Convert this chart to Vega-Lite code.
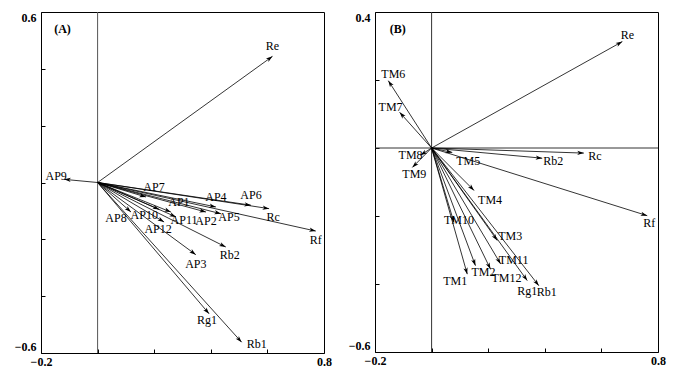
{
  "$schema": "https://vega.github.io/schema/vega-lite/v6.json",
  "padding": {"left": 9, "top": 10, "right": 5, "bottom": 5},
  "bounds": "flush",
  "spacing": 51,
  "config": {
    "view": {"stroke": "#000", "strokeWidth": 1},
    "axis": {
      "grid": false,
      "domain": false,
      "ticks": true,
      "tickSize": 4,
      "offset": -4,
      "tickColor": "#000",
      "tickWidth": 1,
      "labelFont": "Liberation Serif",
      "labelFontSize": 12,
      "labelFontWeight": "bold",
      "labelColor": "#000",
      "format": ".1f",
      "labelExpr": "datum.index == 0 || datum.index == 1 ? datum.label : ''"
    },
    "axisY": {"labelPadding": 5, "labelFlush": true, "minExtent": 35, "maxExtent": 35},
    "axisX": {"labelPadding": 3, "labelFlush": false}
  },
  "hconcat": [
    {
      "width": 283,
      "height": 341,
      "data": {"values": [
        {"label": "Re", "x": 0.618, "y": 0.444},
        {"label": "AP9", "x": -0.118, "y": 0.011},
        {"label": "AP7", "x": 0.171, "y": -0.051},
        {"label": "AP4", "x": 0.418, "y": -0.086},
        {"label": "AP6", "x": 0.542, "y": -0.080},
        {"label": "Rc", "x": 0.606, "y": -0.092},
        {"label": "Rf", "x": 0.771, "y": -0.171},
        {"label": "AP1", "x": 0.259, "y": -0.104},
        {"label": "AP10", "x": 0.218, "y": -0.095},
        {"label": "AP8", "x": 0.118, "y": -0.104},
        {"label": "AP11", "x": 0.277, "y": -0.121},
        {"label": "AP12", "x": 0.235, "y": -0.139},
        {"label": "AP2", "x": 0.383, "y": -0.104},
        {"label": "AP5", "x": 0.436, "y": -0.110},
        {"label": "AP3", "x": 0.347, "y": -0.254},
        {"label": "Rb2", "x": 0.453, "y": -0.227},
        {"label": "Rg1", "x": 0.394, "y": -0.462},
        {"label": "Rb1", "x": 0.509, "y": -0.562}
      ]},
      "transform": [{"calculate": "atan2(datum.x*283, datum.y*284)*180/PI", "as": "ang"}],
      "layer": [
        {
          "data": {"values": [{}]},
          "mark": {"type": "rule", "stroke": "#555", "strokeWidth": 1},
          "encoding": {"x": {"datum": 0, "type": "quantitative", "title": null}}
        },
        {
          "mark": {"type": "rule", "stroke": "#000", "strokeWidth": 0.8},
          "encoding": {
            "x": {"field": "x", "type": "quantitative", "title": null},
            "y": {"field": "y", "type": "quantitative", "title": null},
            "x2": {"datum": 0},
            "y2": {"datum": 0}
          }
        },
        {
          "mark": {"type": "point", "shape": "M0,0L0.55,1.7L0,1.25L-0.55,1.7Z", "filled": true, "color": "#000", "size": 60, "opacity": 1},
          "encoding": {
            "x": {"field": "x", "type": "quantitative", "title": null,
                  "scale": {"domain": [-0.2, 0.8], "nice": false, "zero": false},
                  "axis": {"values": [-0.2, 0, 0.2, 0.4, 0.6, 0.8]}},
            "y": {"field": "y", "type": "quantitative", "title": null,
                  "scale": {"domain": [-0.6, 0.6], "nice": false, "zero": false},
                  "axis": {"values": [-0.6, -0.4, -0.2, 0, 0.2, 0.4, 0.6]}},
            "angle": {"field": "ang", "type": "quantitative", "scale": null}
          }
        },
        {
          "transform": [{"filter": {"field": "label", "oneOf": ["AP6", "AP4", "Re"]}}],
          "mark": {"type": "text", "dx": 0, "dy": -10, "font": "Liberation Serif", "fontSize": 12, "color": "#000"},
          "encoding": {"x": {"field": "x", "type": "quantitative", "title": null}, "y": {"field": "y", "type": "quantitative", "title": null}, "text": {"field": "label"}}
        },
        {
          "transform": [{"filter": {"field": "label", "oneOf": ["AP7", "AP1"]}}],
          "mark": {"type": "text", "dx": 8, "dy": -10, "font": "Liberation Serif", "fontSize": 12, "color": "#000"},
          "encoding": {"x": {"field": "x", "type": "quantitative", "title": null}, "y": {"field": "y", "type": "quantitative", "title": null}, "text": {"field": "label"}}
        },
        {
          "transform": [{"filter": {"field": "label", "oneOf": ["Rf", "AP2", "AP3"]}}],
          "mark": {"type": "text", "dx": 0, "dy": 9, "font": "Liberation Serif", "fontSize": 12, "color": "#000"},
          "encoding": {"x": {"field": "x", "type": "quantitative", "title": null}, "y": {"field": "y", "type": "quantitative", "title": null}, "text": {"field": "label"}}
        },
        {
          "transform": [{"filter": {"field": "label", "oneOf": ["Rc", "Rb2"]}}],
          "mark": {"type": "text", "dx": 4, "dy": 8, "font": "Liberation Serif", "fontSize": 12, "color": "#000"},
          "encoding": {"x": {"field": "x", "type": "quantitative", "title": null}, "y": {"field": "y", "type": "quantitative", "title": null}, "text": {"field": "label"}}
        },
        {
          "transform": [{"filter": {"field": "label", "oneOf": ["Rg1"]}}],
          "mark": {"type": "text", "dx": -2, "dy": 6, "font": "Liberation Serif", "fontSize": 12, "color": "#000"},
          "encoding": {"x": {"field": "x", "type": "quantitative", "title": null}, "y": {"field": "y", "type": "quantitative", "title": null}, "text": {"field": "label"}}
        },
        {
          "transform": [{"filter": {"field": "label", "oneOf": ["AP12"]}}],
          "mark": {"type": "text", "dx": -6, "dy": 7, "font": "Liberation Serif", "fontSize": 12, "color": "#000"},
          "encoding": {"x": {"field": "x", "type": "quantitative", "title": null}, "y": {"field": "y", "type": "quantitative", "title": null}, "text": {"field": "label"}}
        },
        {
          "transform": [{"filter": {"field": "label", "oneOf": ["AP10", "AP8"]}}],
          "mark": {"type": "text", "dx": -15, "dy": 6, "font": "Liberation Serif", "fontSize": 12, "color": "#000"},
          "encoding": {"x": {"field": "x", "type": "quantitative", "title": null}, "y": {"field": "y", "type": "quantitative", "title": null}, "text": {"field": "label"}}
        },
        {
          "transform": [{"filter": {"field": "label", "oneOf": ["AP5", "AP11"]}}],
          "mark": {"type": "text", "dx": 8, "dy": 3, "font": "Liberation Serif", "fontSize": 12, "color": "#000"},
          "encoding": {"x": {"field": "x", "type": "quantitative", "title": null}, "y": {"field": "y", "type": "quantitative", "title": null}, "text": {"field": "label"}}
        },
        {
          "transform": [{"filter": {"field": "label", "oneOf": ["Rb1"]}}],
          "mark": {"type": "text", "dx": 15, "dy": 2, "font": "Liberation Serif", "fontSize": 12, "color": "#000"},
          "encoding": {"x": {"field": "x", "type": "quantitative", "title": null}, "y": {"field": "y", "type": "quantitative", "title": null}, "text": {"field": "label"}}
        },
        {
          "transform": [{"filter": {"field": "label", "oneOf": ["AP9"]}}],
          "mark": {"type": "text", "dx": -8, "dy": -3, "font": "Liberation Serif", "fontSize": 12, "color": "#000"},
          "encoding": {"x": {"field": "x", "type": "quantitative", "title": null}, "y": {"field": "y", "type": "quantitative", "title": null}, "text": {"field": "label"}}
        },
        {
          "data": {"values": [{"t": "(A)"}]},
          "mark": {"type": "text", "font": "Liberation Serif", "fontSize": 12, "fontWeight": "bold", "color": "#000"},
          "encoding": {"x": {"datum": -0.124, "type": "quantitative", "title": null}, "y": {"datum": 0.54, "type": "quantitative", "title": null}, "text": {"field": "t"}}
        }
      ]
    },
    {
      "width": 283,
      "height": 340,
      "data": {"values": [
        {"label": "Re", "x": 0.674, "y": 0.313},
        {"label": "TM6", "x": -0.153, "y": 0.198},
        {"label": "TM7", "x": -0.113, "y": 0.105},
        {"label": "TM8", "x": -0.039, "y": -0.021},
        {"label": "TM9", "x": -0.068, "y": -0.057},
        {"label": "Rc", "x": 0.538, "y": -0.015},
        {"label": "Rb2", "x": 0.391, "y": -0.030},
        {"label": "TM5", "x": 0.073, "y": -0.013},
        {"label": "Rf", "x": 0.762, "y": -0.199},
        {"label": "TM4", "x": 0.150, "y": -0.125},
        {"label": "TM10", "x": 0.079, "y": -0.219},
        {"label": "TM3", "x": 0.232, "y": -0.272},
        {"label": "TM11", "x": 0.244, "y": -0.341},
        {"label": "TM2", "x": 0.155, "y": -0.346},
        {"label": "TM1", "x": 0.126, "y": -0.371},
        {"label": "TM12", "x": 0.208, "y": -0.356},
        {"label": "Rg1", "x": 0.338, "y": -0.390},
        {"label": "Rb1", "x": 0.379, "y": -0.405}
      ]},
      "transform": [{"calculate": "atan2(datum.x*283, datum.y*340)*180/PI", "as": "ang"}],
      "layer": [
        {
          "data": {"values": [{}]},
          "mark": {"type": "rule", "stroke": "#333", "strokeWidth": 1},
          "encoding": {"x": {"datum": 0, "type": "quantitative", "title": null}}
        },
        {
          "data": {"values": [{}]},
          "mark": {"type": "rule", "stroke": "#333", "strokeWidth": 1},
          "encoding": {"y": {"datum": 0, "type": "quantitative", "title": null}}
        },
        {
          "mark": {"type": "rule", "stroke": "#000", "strokeWidth": 0.8},
          "encoding": {
            "x": {"field": "x", "type": "quantitative", "title": null},
            "y": {"field": "y", "type": "quantitative", "title": null},
            "x2": {"datum": 0},
            "y2": {"datum": 0}
          }
        },
        {
          "mark": {"type": "point", "shape": "M0,0L0.55,1.7L0,1.25L-0.55,1.7Z", "filled": true, "color": "#000", "size": 60, "opacity": 1},
          "encoding": {
            "x": {"field": "x", "type": "quantitative", "title": null,
                  "scale": {"domain": [-0.2, 0.8], "nice": false, "zero": false},
                  "axis": {"values": [-0.2, 0, 0.2, 0.4, 0.6, 0.8]}},
            "y": {"field": "y", "type": "quantitative", "title": null,
                  "scale": {"domain": [-0.6, 0.4], "nice": false, "zero": false},
                  "axis": {"values": [-0.6, -0.4, -0.2, 0, 0.2, 0.4]}},
            "angle": {"field": "ang", "type": "quantitative", "scale": null}
          }
        },
        {
          "transform": [{"filter": {"field": "label", "oneOf": ["Re", "TM6"]}}],
          "mark": {"type": "text", "dx": 5, "dy": -7, "font": "Liberation Serif", "fontSize": 12, "color": "#000"},
          "encoding": {"x": {"field": "x", "type": "quantitative", "title": null}, "y": {"field": "y", "type": "quantitative", "title": null}, "text": {"field": "label"}}
        },
        {
          "transform": [{"filter": {"field": "label", "oneOf": ["TM7"]}}],
          "mark": {"type": "text", "dx": -9, "dy": -5, "font": "Liberation Serif", "fontSize": 12, "color": "#000"},
          "encoding": {"x": {"field": "x", "type": "quantitative", "title": null}, "y": {"field": "y", "type": "quantitative", "title": null}, "text": {"field": "label"}}
        },
        {
          "transform": [{"filter": {"field": "label", "oneOf": ["TM8"]}}],
          "mark": {"type": "text", "dx": -10, "dy": 0, "font": "Liberation Serif", "fontSize": 12, "color": "#000"},
          "encoding": {"x": {"field": "x", "type": "quantitative", "title": null}, "y": {"field": "y", "type": "quantitative", "title": null}, "text": {"field": "label"}}
        },
        {
          "transform": [{"filter": {"field": "label", "oneOf": ["TM9", "Rf"]}}],
          "mark": {"type": "text", "dx": 2, "dy": 7, "font": "Liberation Serif", "fontSize": 12, "color": "#000"},
          "encoding": {"x": {"field": "x", "type": "quantitative", "title": null}, "y": {"field": "y", "type": "quantitative", "title": null}, "text": {"field": "label"}}
        },
        {
          "transform": [{"filter": {"field": "label", "oneOf": ["TM5", "TM4", "TM12"]}}],
          "mark": {"type": "text", "dx": 16, "dy": 9, "font": "Liberation Serif", "fontSize": 12, "color": "#000"},
          "encoding": {"x": {"field": "x", "type": "quantitative", "title": null}, "y": {"field": "y", "type": "quantitative", "title": null}, "text": {"field": "label"}}
        },
        {
          "transform": [{"filter": {"field": "label", "oneOf": ["Rb2", "Rc"]}}],
          "mark": {"type": "text", "dx": 11, "dy": 3, "font": "Liberation Serif", "fontSize": 12, "color": "#000"},
          "encoding": {"x": {"field": "x", "type": "quantitative", "title": null}, "y": {"field": "y", "type": "quantitative", "title": null}, "text": {"field": "label"}}
        },
        {
          "transform": [{"filter": {"field": "label", "oneOf": ["TM3", "TM11"]}}],
          "mark": {"type": "text", "dx": 13, "dy": -4, "font": "Liberation Serif", "fontSize": 12, "color": "#000"},
          "encoding": {"x": {"field": "x", "type": "quantitative", "title": null}, "y": {"field": "y", "type": "quantitative", "title": null}, "text": {"field": "label"}}
        },
        {
          "transform": [{"filter": {"field": "label", "oneOf": ["TM10"]}}],
          "mark": {"type": "text", "dx": 5, "dy": -2, "font": "Liberation Serif", "fontSize": 12, "color": "#000"},
          "encoding": {"x": {"field": "x", "type": "quantitative", "title": null}, "y": {"field": "y", "type": "quantitative", "title": null}, "text": {"field": "label"}}
        },
        {
          "transform": [{"filter": {"field": "label", "oneOf": ["TM2", "Rb1"]}}],
          "mark": {"type": "text", "dx": 8, "dy": 6, "font": "Liberation Serif", "fontSize": 12, "color": "#000"},
          "encoding": {"x": {"field": "x", "type": "quantitative", "title": null}, "y": {"field": "y", "type": "quantitative", "title": null}, "text": {"field": "label"}}
        },
        {
          "transform": [{"filter": {"field": "label", "oneOf": ["TM1"]}}],
          "mark": {"type": "text", "dx": -12, "dy": 7, "font": "Liberation Serif", "fontSize": 12, "color": "#000"},
          "encoding": {"x": {"field": "x", "type": "quantitative", "title": null}, "y": {"field": "y", "type": "quantitative", "title": null}, "text": {"field": "label"}}
        },
        {
          "transform": [{"filter": {"field": "label", "oneOf": ["Rg1"]}}],
          "mark": {"type": "text", "dx": 0, "dy": 10, "font": "Liberation Serif", "fontSize": 12, "color": "#000"},
          "encoding": {"x": {"field": "x", "type": "quantitative", "title": null}, "y": {"field": "y", "type": "quantitative", "title": null}, "text": {"field": "label"}}
        },
        {
          "data": {"values": [{"t": "(B)"}]},
          "mark": {"type": "text", "font": "Liberation Serif", "fontSize": 12, "fontWeight": "bold", "color": "#000"},
          "encoding": {"x": {"datum": -0.12, "type": "quantitative", "title": null}, "y": {"datum": 0.349, "type": "quantitative", "title": null}, "text": {"field": "t"}}
        }
      ]
    }
  ]
}
